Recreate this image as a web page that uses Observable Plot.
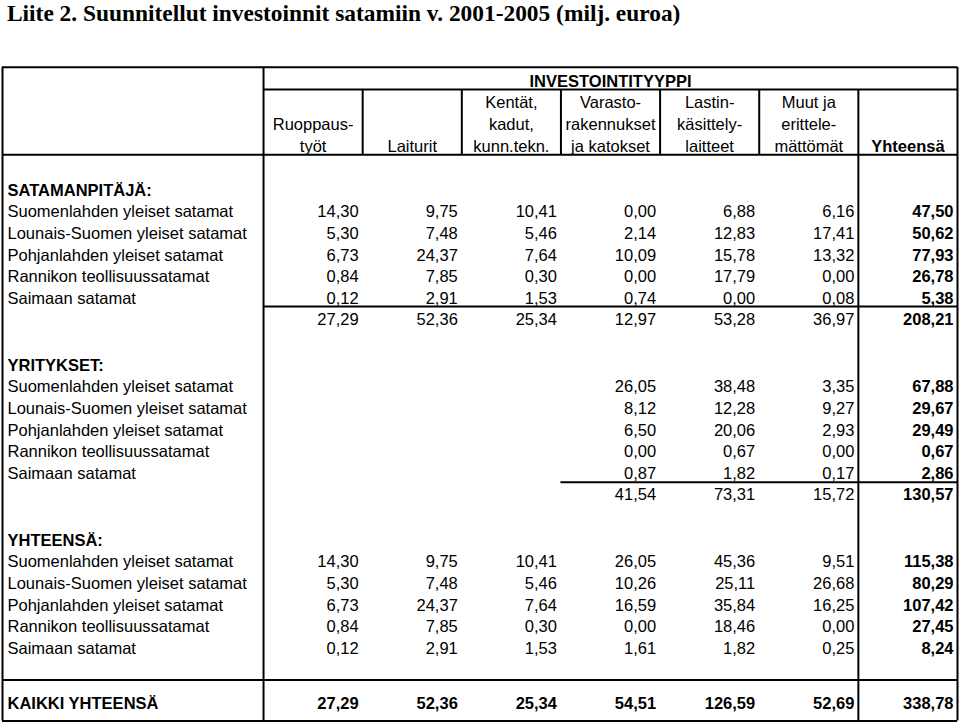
<!DOCTYPE html>
<html>
<head>
<meta charset="utf-8">
<script src="https://cdn.jsdelivr.net/npm/d3@7"></script>
<script src="https://cdn.jsdelivr.net/npm/@observablehq/plot@0.6"></script>
<style>
  body { margin: 0; background: #fff; }
  #title { font: bold 23.4px "Liberation Serif", "Times New Roman", serif; height: 40px; line-height: 26px; padding-left: 7px; white-space: nowrap; color: #000; overflow: visible; }
  #chart svg { display: block; }
</style>
</head>
<body>
<div id="title">Liite 2. Suunnitellut investoinnit satamiin v. 2001-2005 (milj. euroa)</div>
<div id="chart"></div>
<script>
// ---------- data ----------
const groupTitle = "INVESTOINTITYYPPI";
const columnHeaders = [
  ["", "Ruoppaus-", "työt"],
  ["", "", "Laiturit"],
  ["Kentät,", "kadut,", "kunn.tekn."],
  ["Varasto-", "rakennukset", "ja katokset"],
  ["Lastin-", "käsittely-", "laitteet"],
  ["Muut ja", "erittele-", "mättömät"],
  ["", "", "Yhteensä"]
];
const regions = [
  "Suomenlahden yleiset satamat",
  "Lounais-Suomen yleiset satamat",
  "Pohjanlahden yleiset satamat",
  "Rannikon teollisuussatamat",
  "Saimaan satamat"
];
const sectionTitles = ["SATAMANPITÄJÄ:", "YRITYKSET:", "YHTEENSÄ:"];
const grandTotalLabel = "KAIKKI YHTEENSÄ";

const satamanpitaja = [
  [14.30, 9.75, 10.41, 0.00, 6.88, 6.16, 47.50],
  [5.30, 7.48, 5.46, 2.14, 12.83, 17.41, 50.62],
  [6.73, 24.37, 7.64, 10.09, 15.78, 13.32, 77.93],
  [0.84, 7.85, 0.30, 0.00, 17.79, 0.00, 26.78],
  [0.12, 2.91, 1.53, 0.74, 0.00, 0.08, 5.38]
];
const satamanpitajaTotal = [27.29, 52.36, 25.34, 12.97, 53.28, 36.97, 208.21];

const yritykset = [
  [null, null, null, 26.05, 38.48, 3.35, 67.88],
  [null, null, null, 8.12, 12.28, 9.27, 29.67],
  [null, null, null, 6.50, 20.06, 2.93, 29.49],
  [null, null, null, 0.00, 0.67, 0.00, 0.67],
  [null, null, null, 0.87, 1.82, 0.17, 2.86]
];
const yrityksetTotal = [null, null, null, 41.54, 73.31, 15.72, 130.57];

const yhteensa = [
  [14.30, 9.75, 10.41, 26.05, 45.36, 9.51, 115.38],
  [5.30, 7.48, 5.46, 10.26, 25.11, 26.68, 80.29],
  [6.73, 24.37, 7.64, 16.59, 35.84, 16.25, 107.42],
  [0.84, 7.85, 0.30, 0.00, 18.46, 0.00, 27.45],
  [0.12, 2.91, 1.53, 1.61, 1.82, 0.25, 8.24]
];
const kaikkiYhteensa = [27.29, 52.36, 25.34, 54.51, 126.59, 52.69, 338.78];

// ---------- layout (row / column units) ----------
const labelCol = -2.633;            // left border of label column
const lastCol = 7;                  // right border
const sectionStart = [5.05, 13.15, 21.25];
const grandRow = 28.8;
const yTop = -0.66, yHeadDiv = 0.37, yHeadBottom = 3.39, yBottom = 29.61, yPreGrand = 27.71;

const fi = d3.formatLocale({decimal: ",", thousands: "\u00a0", grouping: [3], currency: ["", "\u00a0€"]});
const fmt = fi.format(".2f");

// build cells
const labelsBold = [], labelsNormal = [], nums = [], numsBold = [];
const sections = [
  {rows: satamanpitaja, total: satamanpitajaTotal},
  {rows: yritykset, total: yrityksetTotal},
  {rows: yhteensa, total: null}
];
sections.forEach((s, si) => {
  const r0 = sectionStart[si];
  labelsBold.push({r: r0, text: sectionTitles[si]});
  s.rows.forEach((row, i) => {
    labelsNormal.push({r: r0 + 1 + i, text: regions[i]});
    row.forEach((v, c) => {
      if (v == null) return;
      (c === 6 ? numsBold : nums).push({c, r: r0 + 1 + i, v});
    });
  });
  if (s.total) s.total.forEach((v, c) => {
    if (v == null) return;
    (c === 6 ? numsBold : nums).push({c, r: r0 + 1 + s.rows.length, v});
  });
});
labelsBold.push({r: grandRow, text: grandTotalLabel});
kaikkiYhteensa.forEach((v, c) => numsBold.push({c, r: grandRow, v}));

const headNormal = [], headBold = [];
columnHeaders.forEach((lines, c) => lines.forEach((t, k) => {
  if (!t) return;
  (c === 6 ? headBold : headNormal).push({c, r: 1 + k, text: t});
}));

const hLines = [
  {y: yTop, x1: labelCol, x2: lastCol},
  {y: yHeadDiv, x1: 0, x2: lastCol},
  {y: yHeadBottom, x1: labelCol, x2: lastCol},
  {y: 10.42, x1: 0, x2: lastCol},
  {y: 18.55, x1: 3, x2: lastCol},
  {y: yPreGrand, x1: labelCol, x2: lastCol},
  {y: yBottom, x1: labelCol, x2: lastCol}
];
const vLines = [
  {x: labelCol, y1: yTop, y2: yBottom},
  {x: 0, y1: yTop, y2: yBottom},
  ...[1, 2, 3, 4, 5].map(x => ({x, y1: yHeadDiv, y2: yHeadBottom})),
  {x: 6, y1: yHeadDiv, y2: yBottom},
  {x: lastCol, y1: yTop, y2: yBottom}
];

const font = "'Liberation Sans', Arial, sans-serif";
const fs = 16.5;

const chart = Plot.plot({
  width: 960,
  height: 686,
  margin: 0,
  style: {fontFamily: font, fontSize: fs + "px", color: "#000", background: "#fff"},
  x: {type: "linear", domain: [labelCol, lastCol], range: [2, 957], axis: null},
  y: {type: "linear", domain: [0, 30], range: [41, 689], axis: null},
  marks: [
    Plot.ruleY(hLines, {y: "y", x1: "x1", x2: "x2", stroke: "#000", strokeWidth: 2}),
    Plot.ruleX(vLines, {x: "x", y1: "y1", y2: "y2", stroke: "#000", strokeWidth: 2}),
    Plot.text([groupTitle], {x: () => (lastCol) / 2, y: () => 0, text: d => d, fontWeight: "bold", fontSize: fs, fill: "#000"}),
    Plot.text(headNormal, {x: d => d.c + 0.5, y: "r", text: "text", fontSize: fs, fill: "#000"}),
    Plot.text(headBold, {x: d => d.c + 0.5, y: "r", text: "text", fontWeight: "bold", fontSize: fs, fill: "#000"}),
    Plot.text(labelsNormal, {x: () => labelCol, y: "r", text: "text", textAnchor: "start", dx: 5, fontSize: fs, fill: "#000"}),
    Plot.text(labelsBold, {x: () => labelCol, y: "r", text: "text", textAnchor: "start", dx: 5, fontWeight: "bold", fontSize: fs, fill: "#000"}),
    Plot.text(nums, {x: d => d.c + 1, y: "r", text: d => fmt(d.v), textAnchor: "end", dx: -4, fontSize: fs, fill: "#000"}),
    Plot.text(numsBold, {x: d => d.c + 1, y: "r", text: d => fmt(d.v), textAnchor: "end", dx: -4, fontWeight: "bold", fontSize: fs, fill: "#000"})
  ]
});
document.getElementById("chart").appendChild(chart);
</script>
</body>
</html>
